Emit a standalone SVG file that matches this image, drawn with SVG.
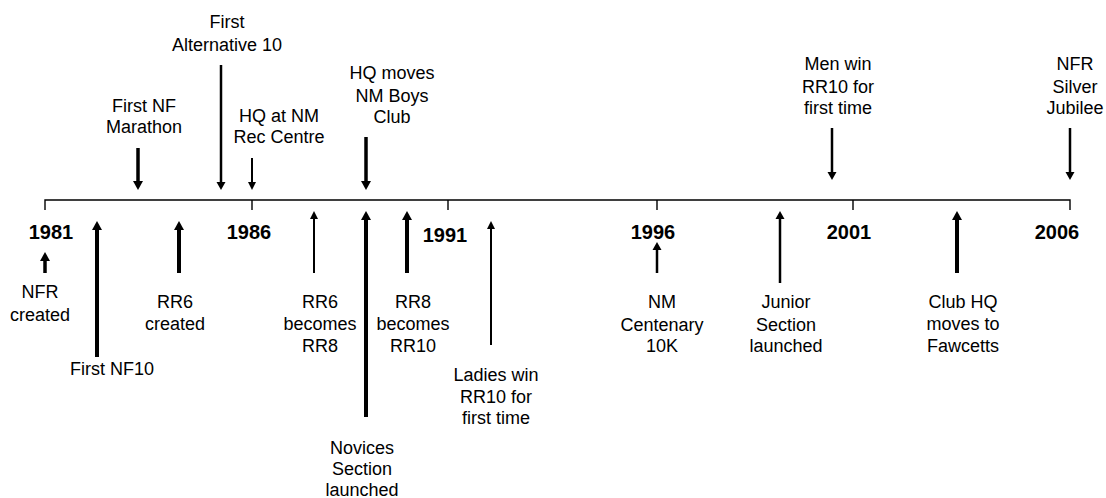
<svg xmlns="http://www.w3.org/2000/svg" width="1106" height="498" viewBox="0 0 1106 498">
<style>
text{font-family:"Liberation Sans",Arial,sans-serif;fill:#000}
.lbl{font-size:18px;text-anchor:middle}
.yr{font-size:20px;font-weight:bold;text-anchor:middle}
.ax{stroke:#000;stroke-width:1.4;fill:none}
.s{stroke:#000;fill:none}
.h{fill:#000}
</style>
<rect width="1106" height="498" fill="#fff"/>
<g id="axis">
<path class="ax" d="M45,210V200H1070V210M252,200V210M448,200V210M657,200V210M853,200V210"/>
<text class="yr" x="51" y="239">1981</text>
<text class="yr" x="249" y="239">1986</text>
<text class="yr" x="445" y="242">1991</text>
<text class="yr" x="653" y="239">1996</text>
<text class="yr" x="849" y="239">2001</text>
<text class="yr" x="1057" y="239">2006</text>
</g>
<g id="connectors">
<line class="s" x1="138" y1="148" x2="138" y2="182" stroke-width="3.5"/><polygon class="h" points="133,181 143,181 138,190"/>
<line class="s" x1="221" y1="65" x2="221" y2="182" stroke-width="2.5"/><polygon class="h" points="216.5,182 225.5,182 221,190"/>
<line class="s" x1="252" y1="158" x2="252" y2="183" stroke-width="2"/><polygon class="h" points="248,182 256,182 252,190"/>
<line class="s" x1="366" y1="137" x2="366" y2="182" stroke-width="3.5"/><polygon class="h" points="361,181 371,181 366,190"/>
<line class="s" x1="832" y1="128" x2="832" y2="172" stroke-width="2.5"/><polygon class="h" points="827.5,172 836.5,172 832,180"/>
<line class="s" x1="1070" y1="128" x2="1070" y2="172" stroke-width="2.5"/><polygon class="h" points="1065.5,172 1074.5,172 1070,180"/>
<line class="s" x1="45" y1="273" x2="45" y2="260" stroke-width="3.5"/><polygon class="h" points="40,261 50,261 45,252"/>
<line class="s" x1="97" y1="357" x2="97" y2="229" stroke-width="4"/><polygon class="h" points="92,230 102,230 97,221"/>
<line class="s" x1="179" y1="273" x2="179" y2="229" stroke-width="4"/><polygon class="h" points="174,230 184,230 179,221"/>
<line class="s" x1="314" y1="273" x2="314" y2="218" stroke-width="2"/><polygon class="h" points="310,219 318,219 314,211"/>
<line class="s" x1="366" y1="417" x2="366" y2="219" stroke-width="4"/><polygon class="h" points="361,220 371,220 366,211"/>
<line class="s" x1="407" y1="273" x2="407" y2="219" stroke-width="4"/><polygon class="h" points="402,220 412,220 407,211"/>
<line class="s" x1="491" y1="345" x2="491" y2="228" stroke-width="2"/><polygon class="h" points="487,229 495,229 491,221"/>
<line class="s" x1="657" y1="273" x2="657" y2="249" stroke-width="2.5"/><polygon class="h" points="652.5,250 661.5,250 657,242"/>
<line class="s" x1="780" y1="283" x2="780" y2="218" stroke-width="2.5"/><polygon class="h" points="775.5,219 784.5,219 780,211"/>
<line class="s" x1="957" y1="273" x2="957" y2="219" stroke-width="4"/><polygon class="h" points="952,220 962,220 957,211"/>
</g>
<g id="n-first-nf-marathon"><text class="lbl" x="144" y="112">First NF</text><text class="lbl" x="144" y="133">Marathon</text></g>
<g id="n-first-alt-10"><text class="lbl" x="227" y="28">First</text><text class="lbl" x="227" y="51">Alternative 10</text></g>
<g id="n-hq-nm-rec"><text class="lbl" x="279" y="122">HQ at NM</text><text class="lbl" x="279" y="143">Rec Centre</text></g>
<g id="n-hq-moves"><text class="lbl" x="392" y="79">HQ moves</text><text class="lbl" x="392" y="102">NM Boys</text><text class="lbl" x="392" y="123">Club</text></g>
<g id="n-men-win"><text class="lbl" x="838" y="70">Men win</text><text class="lbl" x="838" y="93">RR10 for</text><text class="lbl" x="838" y="114">first time</text></g>
<g id="n-silver"><text class="lbl" x="1075" y="70">NFR</text><text class="lbl" x="1075" y="93">Silver</text><text class="lbl" x="1075" y="114">Jubilee</text></g>
<g id="n-nfr-created"><text class="lbl" x="40" y="298">NFR</text><text class="lbl" x="40" y="321">created</text></g>
<g id="n-first-nf10"><text class="lbl" x="112" y="375">First NF10</text></g>
<g id="n-rr6-created"><text class="lbl" x="175" y="308">RR6</text><text class="lbl" x="175" y="330">created</text></g>
<g id="n-rr6-rr8"><text class="lbl" x="320" y="308">RR6</text><text class="lbl" x="320" y="330">becomes</text><text class="lbl" x="320" y="352">RR8</text></g>
<g id="n-rr8-rr10"><text class="lbl" x="413" y="308">RR8</text><text class="lbl" x="413" y="330">becomes</text><text class="lbl" x="413" y="352">RR10</text></g>
<g id="n-novices"><text class="lbl" x="362" y="454">Novices</text><text class="lbl" x="362" y="475">Section</text><text class="lbl" x="362" y="496">launched</text></g>
<g id="n-ladies"><text class="lbl" x="496" y="381">Ladies win</text><text class="lbl" x="496" y="403">RR10 for</text><text class="lbl" x="496" y="424">first time</text></g>
<g id="n-centenary"><text class="lbl" x="662" y="308">NM</text><text class="lbl" x="662" y="331">Centenary</text><text class="lbl" x="662" y="352">10K</text></g>
<g id="n-junior"><text class="lbl" x="786" y="308">Junior</text><text class="lbl" x="786" y="331">Section</text><text class="lbl" x="786" y="352">launched</text></g>
<g id="n-club-hq"><text class="lbl" x="963" y="308">Club HQ</text><text class="lbl" x="963" y="330">moves to</text><text class="lbl" x="963" y="352">Fawcetts</text></g>
</svg>
